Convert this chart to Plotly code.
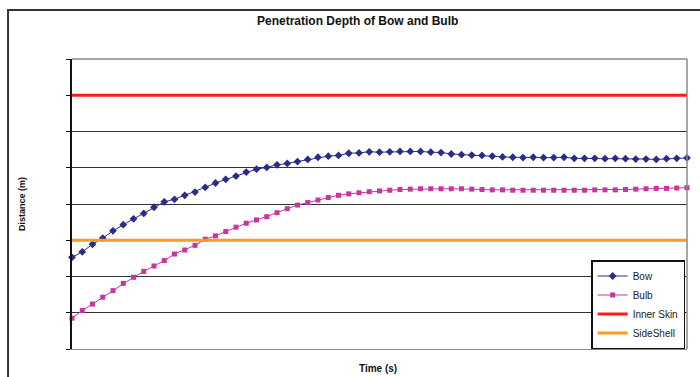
import plotly.graph_objects as go

# ---- data ----
time_steps = list(range(61))

bow_depth = [2.53, 2.68, 2.89, 3.06, 3.26, 3.43, 3.59, 3.74, 3.91, 4.06,
             4.13, 4.24, 4.33, 4.46, 4.58, 4.68, 4.77, 4.88, 4.96, 5.01,
             5.08, 5.12, 5.17, 5.23, 5.29, 5.32, 5.34, 5.40, 5.41, 5.44,
             5.43, 5.44, 5.45, 5.45, 5.45, 5.43, 5.42, 5.38, 5.36, 5.35,
             5.34, 5.32, 5.30, 5.29, 5.28, 5.29, 5.28, 5.28, 5.29, 5.26,
             5.26, 5.26, 5.25, 5.26, 5.25, 5.24, 5.24, 5.23, 5.25, 5.26, 5.27]

bulb_depth = [0.85, 1.06, 1.24, 1.43, 1.61, 1.81, 1.98, 2.14, 2.29, 2.44,
              2.62, 2.73, 2.86, 3.03, 3.12, 3.24, 3.36, 3.47, 3.56, 3.65,
              3.76, 3.87, 3.97, 4.04, 4.11, 4.18, 4.24, 4.28, 4.31, 4.34,
              4.36, 4.38, 4.40, 4.41, 4.42, 4.42, 4.42, 4.42, 4.42, 4.41,
              4.40, 4.39, 4.39, 4.38, 4.38, 4.38, 4.38, 4.38, 4.38, 4.38,
              4.38, 4.39, 4.39, 4.39, 4.40, 4.41, 4.42, 4.43, 4.43, 4.44, 4.45]

inner_skin_level = 7.0
sideshell_level = 3.0

series_names = ["Bow", "Bulb", "Inner Skin", "SideShell"]
title_text = "Penetration Depth of Bow and Bulb"
x_title = "Time (s)"
y_title = "Distance (m)"

# ---- figure ----
fig = go.Figure()

fig.add_trace(go.Scatter(
    x=time_steps, y=bow_depth, name=series_names[0], mode="lines+markers",
    line=dict(color="#2B2B88", width=1),
    marker=dict(symbol="diamond", size=6, color="#2B2B88"),
    cliponaxis=False))

fig.add_trace(go.Scatter(
    x=time_steps, y=bulb_depth, name=series_names[1], mode="lines+markers",
    line=dict(color="#C935A0", width=1),
    marker=dict(symbol="square", size=5, color="#C935A0"),
    cliponaxis=False))

fig.add_trace(go.Scatter(
    x=[time_steps[0], time_steps[-1]], y=[inner_skin_level] * 2,
    name=series_names[2], mode="lines",
    line=dict(color="#FF1A1A", width=3)))

fig.add_trace(go.Scatter(
    x=[time_steps[0], time_steps[-1]], y=[sideshell_level] * 2,
    name=series_names[3], mode="lines",
    line=dict(color="#FF9922", width=3)))

fig.update_layout(
    width=700, height=377,
    margin=dict(l=72, r=13, t=59, b=28),
    paper_bgcolor="white", plot_bgcolor="white",
    font=dict(family="Liberation Sans, Arial", color="#111111"),
    showlegend=True,
    legend=dict(
        x=0.997, y=0.0, xanchor="right", yanchor="bottom",
        bgcolor="white", bordercolor="#111111", borderwidth=1.5,
        font=dict(size=10, color="#222222"),
        itemwidth=30, tracegroupgap=0,
    ),
)

fig.update_xaxes(
    range=[time_steps[0], time_steps[-1]],
    showgrid=False, zeroline=False, showticklabels=False,
    showline=True, linecolor="#8a8a8a", linewidth=1, ticks="")

fig.update_yaxes(
    range=[0, 8], dtick=1, tick0=0,
    showgrid=True, gridcolor="#333333", gridwidth=1,
    zeroline=False, showticklabels=False,
    showline=True, linecolor="#111111", linewidth=1.5,
    ticks="outside", ticklen=4, tickcolor="#111111")

# plot-area top/right border and outer chart frame
fig.add_shape(type="line", xref="paper", yref="paper", x0=0, x1=1, y0=1, y1=1,
              line=dict(color="#8a8a8a", width=1.5), layer="above")
fig.add_shape(type="line", xref="paper", yref="paper", x0=1, x1=1, y0=0, y1=1,
              line=dict(color="#8a8a8a", width=1.5), layer="above")
fig.add_shape(type="rect", xref="paper", yref="paper",
              x0=-0.104, x1=1.2, y0=-0.3, y1=1.169,
              line=dict(color="#333333", width=2), layer="below")

# title and axis titles
fig.add_annotation(text="<b>" + title_text + "</b>", xref="paper", yref="paper",
                   x=(357 - 72) / 615, y=(349 - 21) / 290, showarrow=False,
                   xanchor="center", yanchor="middle",
                   font=dict(size=12, color="#111111"))
fig.add_annotation(text="<b>" + x_title + "</b>", xref="paper", yref="paper",
                   x=(378 - 72) / 615, y=(349 - 368) / 290, showarrow=False,
                   xanchor="center", yanchor="middle",
                   font=dict(size=10, color="#111111"))
fig.add_annotation(text="<b>" + y_title + "</b>", xref="paper", yref="paper",
                   x=(22 - 72) / 615, y=0.5, showarrow=False, textangle=-90,
                   xanchor="center", yanchor="middle",
                   font=dict(size=9, color="#111111"))

fig.write_html("out.html", config={"displayModeBar": False},
               post_script="document.body.style.margin='0';")
